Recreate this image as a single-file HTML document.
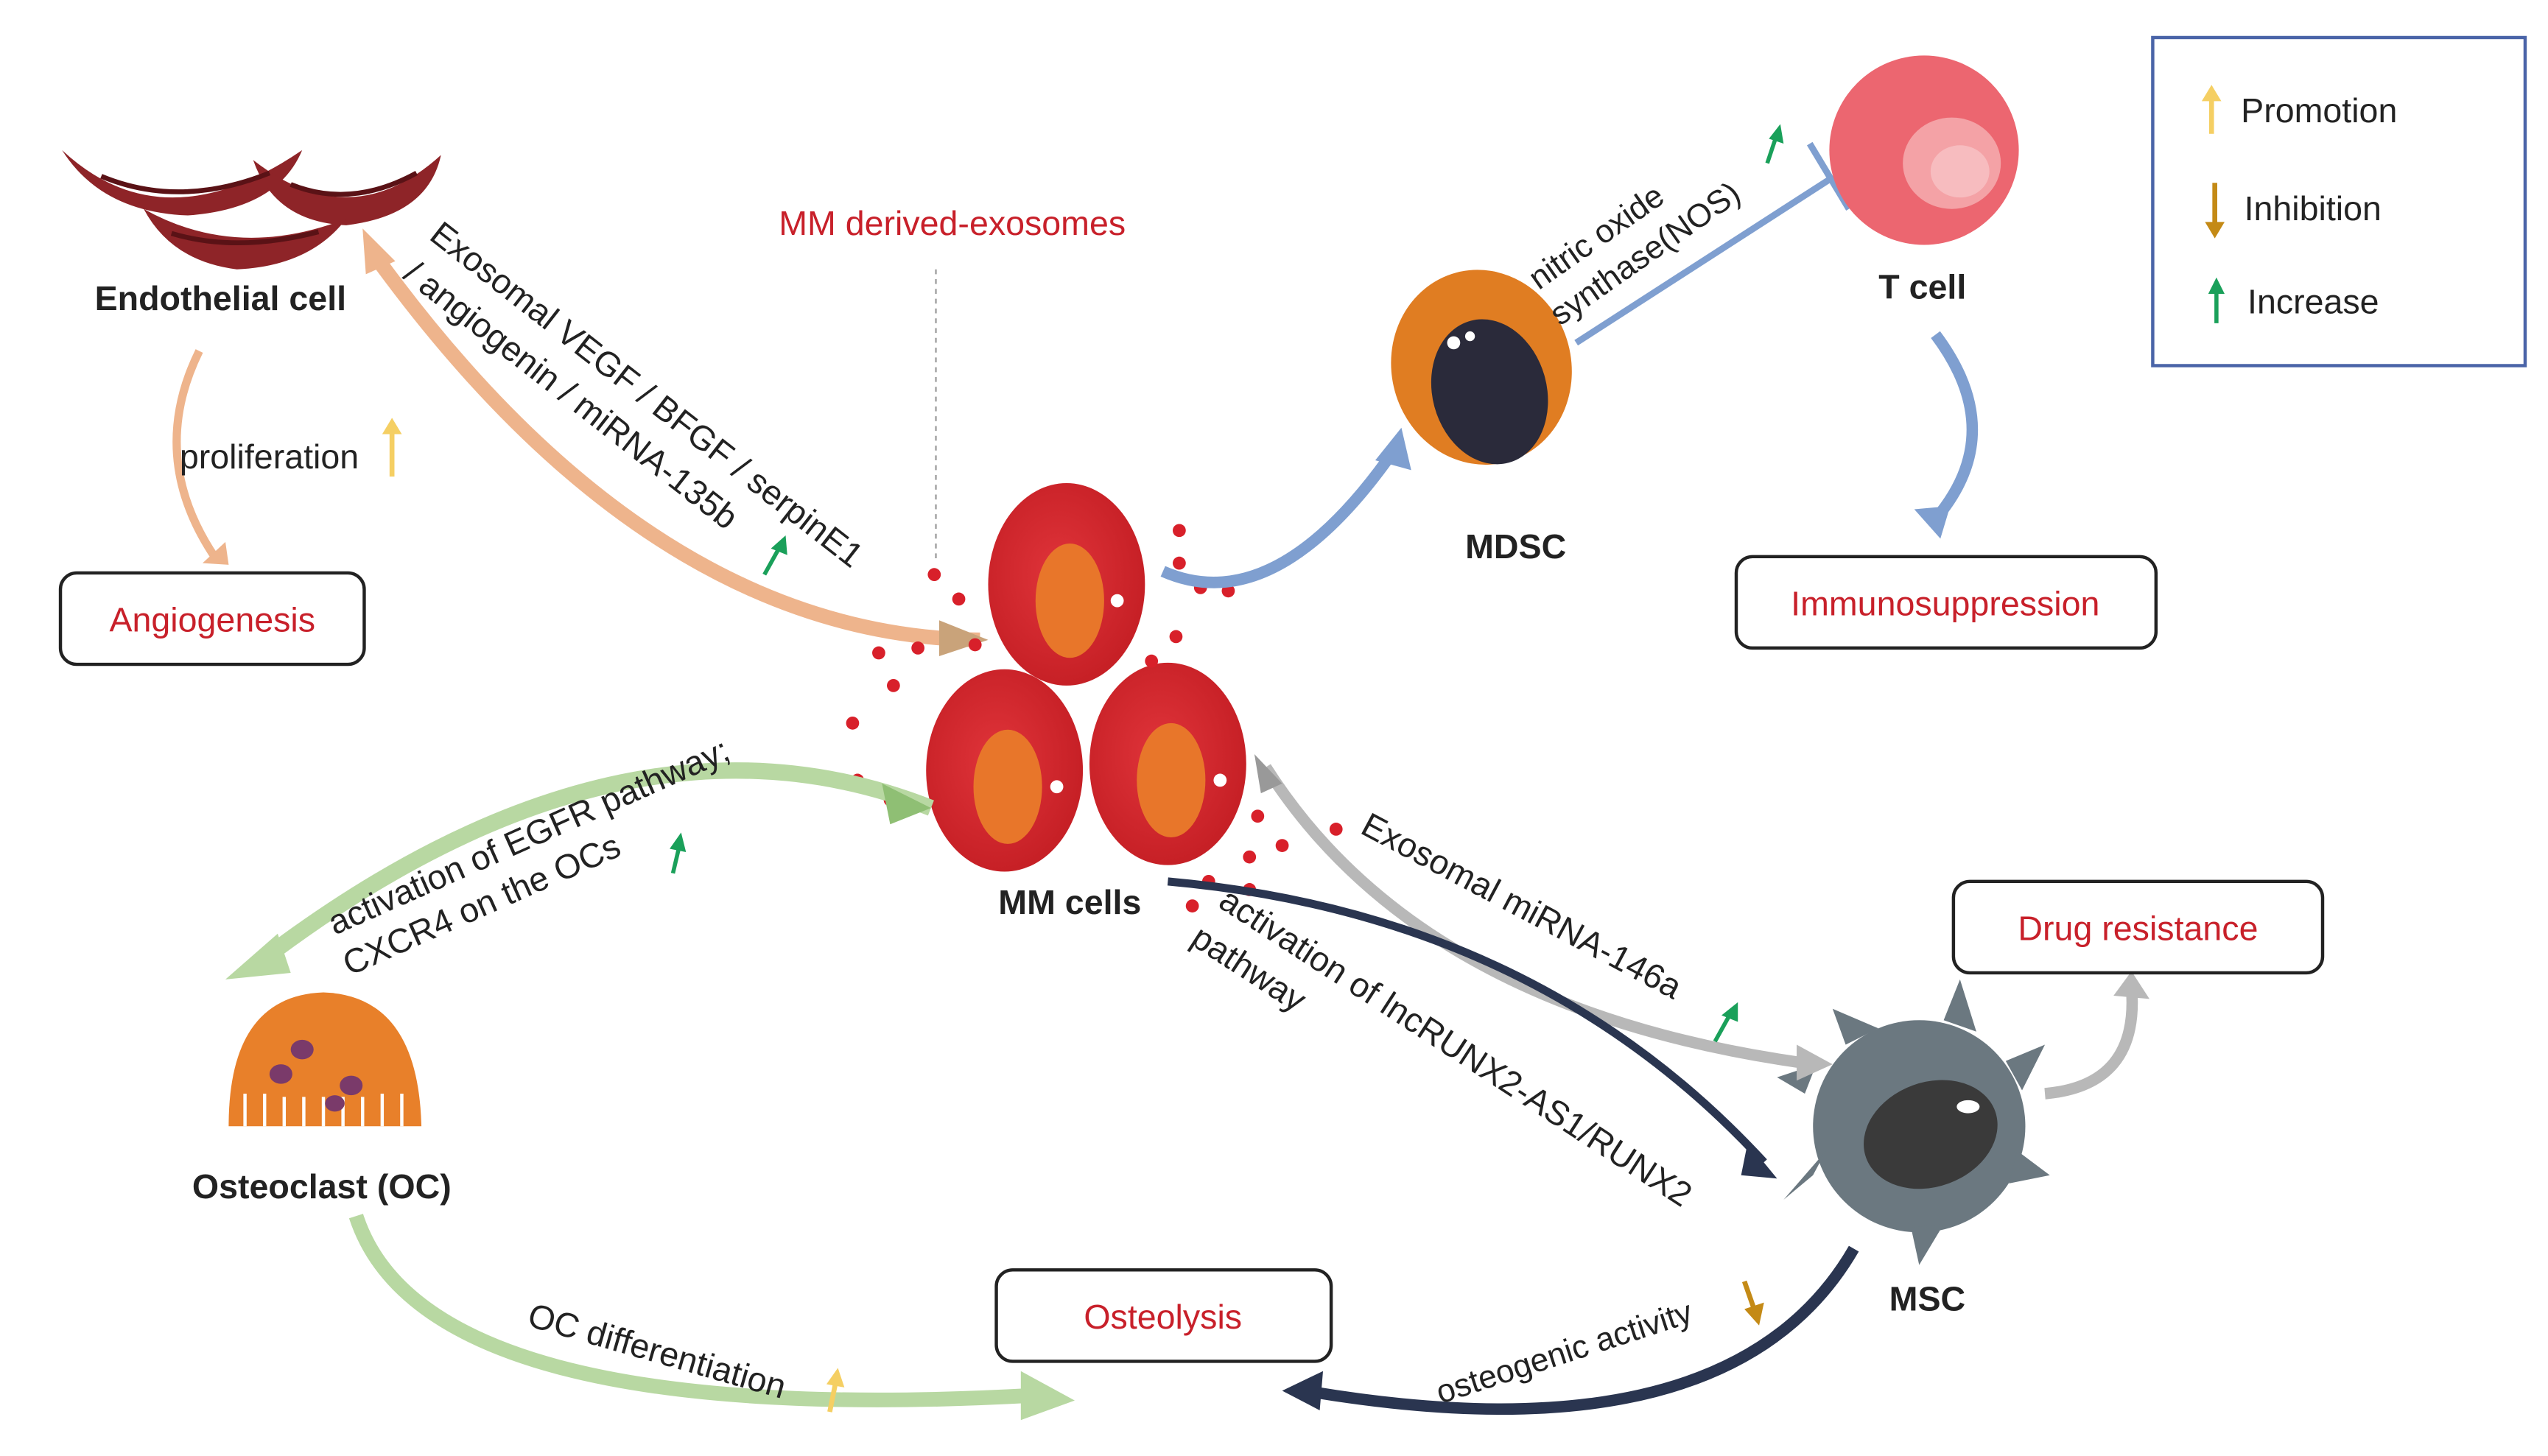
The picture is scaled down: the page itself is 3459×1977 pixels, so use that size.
<!DOCTYPE html>
<html><head><meta charset="utf-8"><style>
html,body{margin:0;padding:0;background:#fff;}
svg{display:block;}
text{font-family:"Liberation Sans",Arial,sans-serif;}
</style></head><body>
<svg width="3459" height="1977" viewBox="0 0 1560 892" preserveAspectRatio="none" xmlns="http://www.w3.org/2000/svg">
<defs>
<radialGradient id="rc" cx="0.45" cy="0.45" r="0.6"><stop offset="0" stop-color="#e0343a"/><stop offset="1" stop-color="#c41e24"/></radialGradient>
</defs>
<rect width="1560" height="892" fill="#fff"/>

<!-- Endothelial cells -->
<g fill="#8e2428">
<path d="M38 92 Q100 150 185 92 Q170 128 115 132 Q62 130 38 92Z"/>
<path d="M155 98 Q215 145 270 95 Q262 132 212 138 Q168 136 155 98Z"/>
<path d="M88 128 Q145 160 212 134 Q190 163 145 165 Q105 160 88 128Z"/>
</g>
<g stroke="#5a1216" stroke-width="3" fill="none">
<path d="M62 108 Q110 128 165 106"/><path d="M178 113 Q215 128 255 106"/><path d="M105 143 Q145 155 195 142"/>
</g>
<text x="135" y="190" font-size="21" font-weight="bold" text-anchor="middle" fill="#222">Endothelial cell</text>

<!-- proliferation arc -->
<path d="M122 215 Q90 280 132 342" stroke="#eeb48c" stroke-width="5" fill="none"/>
<path d="M124 345 L138 332 L140 346Z" fill="#eeb48c"/>
<text x="110" y="287" font-size="21" fill="#222">proliferation</text>
<path d="M240 292 L240 262" stroke="#f5cf63" stroke-width="3"/><path d="M234 266 L240 256 L246 266Z" fill="#f5cf63"/>
<rect x="37" y="351" width="186" height="56" rx="10" fill="#fff" stroke="#222" stroke-width="2"/>
<text x="130" y="387" font-size="21" text-anchor="middle" fill="#c8202a">Angiogenesis</text>

<!-- big orange arrow -->
<path d="M600 392 Q400 390 232 160" stroke="#eeb48c" stroke-width="9" fill="none"/>
<path d="M222 140 L242 160 L224 168Z" fill="#eeb48c"/>
<path d="M575 380 L605 392 L575 402Z" fill="#c9a37a"/>
<text transform="translate(262,146) rotate(38)" font-size="21" fill="#222">Exosomal VEGF / BFGF / serpinE1</text>
<text transform="translate(246,170) rotate(38)" font-size="21" fill="#222">/ angiogenin / miRNA-135b</text>
<path d="M468 352 L478 334" stroke="#1aa05a" stroke-width="2.5"/><path d="M472 336 L481 328 L482 340Z" fill="#1aa05a"/>

<text x="583" y="144" font-size="21" text-anchor="middle" fill="#c8202a">MM derived-exosomes</text>
<line x1="573" y1="165" x2="573" y2="345" stroke="#999" stroke-width="1" stroke-dasharray="3,3"/>

<!-- MM cells -->
<g>
<ellipse cx="653" cy="358" rx="48" ry="62" fill="url(#rc)"/><ellipse cx="655" cy="368" rx="21" ry="35" fill="#e8762a"/>
<ellipse cx="615" cy="472" rx="48" ry="62" fill="url(#rc)"/><ellipse cx="617" cy="482" rx="21" ry="35" fill="#e8762a"/>
<ellipse cx="715" cy="468" rx="48" ry="62" fill="url(#rc)"/><ellipse cx="717" cy="478" rx="21" ry="35" fill="#e8762a"/>
<circle cx="684" cy="368" r="4" fill="#fff"/><circle cx="647" cy="482" r="4" fill="#fff"/><circle cx="747" cy="478" r="4" fill="#fff"/>
</g>
<g fill="#d8202a">
<circle cx="572" cy="352" r="4"/><circle cx="587" cy="367" r="4"/><circle cx="562" cy="397" r="4"/><circle cx="538" cy="400" r="4"/><circle cx="597" cy="395" r="4"/>
<circle cx="722" cy="325" r="4"/><circle cx="722" cy="345" r="4"/><circle cx="735" cy="360" r="4"/><circle cx="752" cy="362" r="4"/><circle cx="720" cy="390" r="4"/><circle cx="705" cy="405" r="4"/>
<circle cx="547" cy="420" r="4"/><circle cx="522" cy="443" r="4"/><circle cx="525" cy="478" r="4"/><circle cx="545" cy="490" r="4"/>
<circle cx="770" cy="500" r="4"/><circle cx="785" cy="518" r="4"/><circle cx="765" cy="525" r="4"/><circle cx="818" cy="508" r="4"/><circle cx="740" cy="540" r="4"/><circle cx="765" cy="545" r="4"/><circle cx="730" cy="555" r="4"/>
</g>
<text x="655" y="560" font-size="21" font-weight="bold" text-anchor="middle" fill="#222">MM cells</text>

<!-- blue arrow to MDSC -->
<path d="M712 350 Q780 380 852 278" stroke="#7f9fd0" stroke-width="7" fill="none"/>
<path d="M842 282 L858 262 L864 288Z" fill="#7f9fd0"/>
<!-- MDSC -->
<ellipse cx="907" cy="225" rx="55" ry="60" transform="rotate(-15 907 225)" fill="#e07d22"/>
<ellipse cx="912" cy="240" rx="35" ry="45" transform="rotate(-15 912 240)" fill="#2a2a3a"/>
<circle cx="890" cy="210" r="4" fill="#fff"/><circle cx="900" cy="206" r="3" fill="#fff"/>
<text x="928" y="342" font-size="21" font-weight="bold" text-anchor="middle" fill="#222">MDSC</text>
<text transform="translate(942,178) rotate(-35)" font-size="20" fill="#222">nitric oxide</text>
<text transform="translate(955,200) rotate(-35)" font-size="20" fill="#222">synthase(NOS)</text>
<path d="M1082 100 L1088 82" stroke="#1aa05a" stroke-width="2.5"/><path d="M1083 85 L1090 76 L1092 88Z" fill="#1aa05a"/>
<line x1="965" y1="210" x2="1120" y2="110" stroke="#7f9fd0" stroke-width="4"/>
<line x1="1108" y1="88" x2="1132" y2="128" stroke="#7f9fd0" stroke-width="4"/>
<!-- T cell -->
<circle cx="1178" cy="92" r="58" fill="#ec6670"/>
<ellipse cx="1195" cy="100" rx="30" ry="28" fill="#f4a2a6"/><ellipse cx="1200" cy="105" rx="18" ry="16" fill="#f7bcbf"/>
<text x="1177" y="183" font-size="21" font-weight="bold" text-anchor="middle" fill="#222">T cell</text>
<path d="M1185 205 Q1230 265 1185 318" stroke="#7f9fd0" stroke-width="7" fill="none"/>
<path d="M1172 312 L1188 330 L1194 310Z" fill="#7f9fd0"/>
<rect x="1063" y="341" width="257" height="56" rx="10" fill="#fff" stroke="#222" stroke-width="2"/>
<text x="1191" y="377" font-size="21" text-anchor="middle" fill="#c8202a">Immunosuppression</text>

<!-- Legend -->
<rect x="1318" y="23" width="228" height="201" fill="#fff" stroke="#4a64a8" stroke-width="2"/>
<line x1="1354" y1="82" x2="1354" y2="58" stroke="#f5cf63" stroke-width="3"/><path d="M1348 62 L1354 52 L1360 62Z" fill="#f5cf63"/>
<text x="1372" y="75" font-size="21" fill="#222">Promotion</text>
<line x1="1356" y1="112" x2="1356" y2="138" stroke="#c48a16" stroke-width="3"/><path d="M1350 136 L1356 146 L1362 136Z" fill="#c48a16"/>
<text x="1374" y="135" font-size="21" fill="#222">Inhibition</text>
<line x1="1357" y1="198" x2="1357" y2="178" stroke="#1aa05a" stroke-width="2.5"/><path d="M1352 180 L1357 170 L1362 180Z" fill="#1aa05a"/>
<text x="1376" y="192" font-size="21" fill="#222">Increase</text>

<!-- green arrow to OC -->
<path d="M570 495 Q380 420 158 590" stroke="#b8d8a2" stroke-width="10" fill="none"/>
<path d="M138 600 L170 572 L178 596Z" fill="#b8d8a2"/>
<path d="M540 480 L570 495 L545 505Z" fill="#8fbf74"/>
<text transform="translate(205,573) rotate(-24)" font-size="21" fill="#222">activation of EGFR pathway;</text>
<text transform="translate(214,598) rotate(-24)" font-size="21" fill="#222">CXCR4 on the OCs</text>
<path d="M412 535 L416 518" stroke="#1aa05a" stroke-width="2.5"/><path d="M410 520 L417 510 L420 522Z" fill="#1aa05a"/>

<!-- Osteoclast -->
<path d="M140 690 Q140 610 198 608 Q256 610 258 690 Z" fill="#e8802a"/>
<g stroke="#fff" stroke-width="2"><line x1="150" y1="670" x2="150" y2="690"/><line x1="162" y1="670" x2="162" y2="690"/><line x1="174" y1="672" x2="174" y2="690"/><line x1="186" y1="672" x2="186" y2="690"/><line x1="198" y1="672" x2="198" y2="690"/><line x1="210" y1="672" x2="210" y2="690"/><line x1="222" y1="672" x2="222" y2="690"/><line x1="234" y1="670" x2="234" y2="690"/><line x1="246" y1="670" x2="246" y2="690"/></g>
<g fill="#7a3a6a"><ellipse cx="172" cy="658" rx="7" ry="6"/><ellipse cx="185" cy="643" rx="7" ry="6"/><ellipse cx="215" cy="665" rx="7" ry="6"/><ellipse cx="205" cy="676" rx="6" ry="5"/></g>
<text x="197" y="734" font-size="21" font-weight="bold" text-anchor="middle" fill="#222">Osteoclast (OC)</text>

<!-- green arrow to osteolysis -->
<path d="M218 745 Q260 875 630 855" stroke="#b8d8a2" stroke-width="9" fill="none"/>
<path d="M625 840 L658 858 L625 870Z" fill="#b8d8a2"/>
<text transform="translate(322,812) rotate(16)" font-size="21" fill="#222">OC differentiation</text>
<path d="M508 865 L512 845" stroke="#f5cf63" stroke-width="3"/><path d="M506 848 L513 838 L517 850Z" fill="#f5cf63"/>
<rect x="610" y="778" width="205" height="56" rx="10" fill="#fff" stroke="#222" stroke-width="2"/>
<text x="712" y="814" font-size="21" text-anchor="middle" fill="#c8202a">Osteolysis</text>

<!-- navy arrow from MSC -->
<path d="M1135 765 Q1060 895 805 853" stroke="#2a3550" stroke-width="7" fill="none"/>
<path d="M785 852 L810 840 L808 864Z" fill="#2a3550"/>
<text transform="translate(882,860) rotate(-18)" font-size="20" fill="#222">osteogenic activity</text>
<path d="M1068 785 L1075 805" stroke="#c48a16" stroke-width="3"/><path d="M1068 802 L1077 812 L1080 798Z" fill="#c48a16"/>

<!-- MSC -->
<g fill="#6b7880">
<circle cx="1175" cy="690" r="65"/>
<path d="M1130 640 L1122 618 L1150 630Z M1190 625 L1200 600 L1210 632Z M1228 650 L1252 640 L1238 668Z M1235 705 L1255 720 L1230 725Z M1170 752 L1175 775 L1190 750Z M1110 720 L1092 735 L1118 705Z M1105 670 L1088 660 L1112 652Z"/>
</g>
<ellipse cx="1182" cy="695" rx="42" ry="32" transform="rotate(-20 1182 695)" fill="#3a3a3a"/>
<ellipse cx="1205" cy="678" rx="7" ry="4" fill="#fff"/>
<text x="1180" y="803" font-size="21" font-weight="bold" text-anchor="middle" fill="#222">MSC</text>

<!-- grey arrow miRNA -->
<path d="M775 470 Q870 620 1110 652" stroke="#b8b8b8" stroke-width="7" fill="none"/>
<path d="M1100 640 L1122 652 L1100 662Z" fill="#b8b8b8"/>
<path d="M768 462 L785 480 L772 486Z" fill="#999"/>
<text transform="translate(832,510) rotate(28)" font-size="21" fill="#222">Exosomal miRNA-146a</text>
<path d="M1050 638 L1060 620" stroke="#1aa05a" stroke-width="2.5"/><path d="M1054 622 L1064 614 L1064 626Z" fill="#1aa05a"/>

<!-- dark arrow lncRUNX2 -->
<path d="M715 540 Q940 560 1080 712" stroke="#2a3550" stroke-width="5" fill="none"/>
<path d="M1070 700 L1088 722 L1066 720Z" fill="#2a3550"/>
<text transform="translate(745,555) rotate(33)" font-size="21" fill="#222">activation of lncRUNX2-AS1/RUNX2</text>
<text transform="translate(728,578) rotate(33)" font-size="21" fill="#222">pathway</text>

<!-- drug resistance -->
<path d="M1252 670 Q1310 665 1305 605" stroke="#b8b8b8" stroke-width="7" fill="none"/>
<path d="M1294 610 L1305 595 L1316 612Z" fill="#b8b8b8"/>
<rect x="1196" y="540" width="226" height="56" rx="10" fill="#fff" stroke="#222" stroke-width="2"/>
<text x="1309" y="576" font-size="21" text-anchor="middle" fill="#c8202a">Drug resistance</text>
</svg>
</body></html>
